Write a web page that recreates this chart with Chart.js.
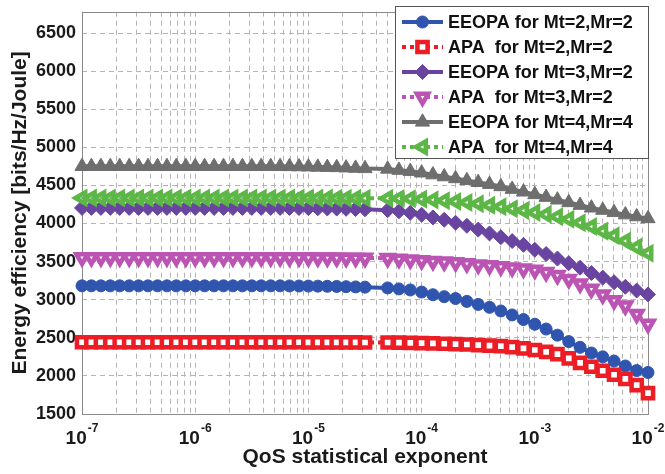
<!DOCTYPE html>
<html lang="en">
<head>
<meta charset="UTF-8">
<title>Energy efficiency vs QoS statistical exponent</title>
<script src="https://cdn.jsdelivr.net/npm/chart.js@4.4.1/dist/chart.umd.min.js"></script>
<style>
  html, body { margin: 0; padding: 0; background: #fff; }
  canvas { display: block; }
</style>
</head>
<body>
<canvas id="ee" width="665" height="474"></canvas>
<script>
// x positions as powers of ten (QoS exponent = 10^e)
const qosExp = [
  -7, -6.917, -6.833, -6.75, -6.667, -6.583, -6.5, -6.417, -6.333, -6.25, -6.167,
  -6.083, -6, -5.917, -5.833, -5.75, -5.667, -5.583, -5.5, -5.417, -5.333, -5.25,
  -5.167, -5.083, -5, -4.917, -4.833, -4.75, -4.667, -4.583, -4.5,
  -4.3, -4.2, -4.1, -4, -3.9, -3.8, -3.7, -3.6, -3.5, -3.4, -3.3, -3.2,
  -3.1, -3, -2.9, -2.8, -2.7, -2.6, -2.5, -2.4, -2.3, -2.2, -2.1, -2
];

const eeopa22 = [
  3182, 3182, 3182, 3182, 3182, 3182, 3182, 3182, 3182, 3182, 3182,
  3182, 3182, 3182, 3182, 3182, 3182, 3182, 3182, 3182, 3182, 3182,
  3181, 3180, 3179, 3178, 3176, 3174, 3171, 3168, 3165,
  3155, 3142, 3128, 3100, 3065, 3040, 3015, 2978, 2938, 2900, 2852, 2800,
  2740, 2678, 2615, 2535, 2450, 2375, 2300, 2250, 2195, 2130, 2070, 2045
];
const apa22 = [
  2442, 2442, 2442, 2442, 2442, 2442, 2442, 2442, 2442, 2442, 2442,
  2442, 2442, 2442, 2442, 2442, 2442, 2442, 2442, 2442, 2442, 2442,
  2442, 2442, 2441, 2441, 2440, 2440, 2439, 2439, 2438,
  2438, 2436, 2434, 2430, 2426, 2422, 2417, 2412, 2405, 2398, 2390, 2378,
  2362, 2340, 2315, 2285, 2230, 2170, 2120, 2068, 2015, 1960, 1880, 1775
];
const eeopa32 = [
  4205, 4205, 4205, 4205, 4205, 4205, 4205, 4205, 4205, 4205, 4205,
  4205, 4205, 4205, 4205, 4205, 4205, 4205, 4205, 4205, 4205, 4205,
  4204, 4203, 4202, 4200, 4198, 4196, 4193, 4190, 4187,
  4175, 4160, 4140, 4115, 4080, 4050, 4010, 3970, 3920, 3870, 3820, 3770,
  3720, 3655, 3600, 3540, 3480, 3420, 3350, 3290, 3230, 3170, 3120, 3070
];
const apa32 = [
  3555, 3555, 3555, 3555, 3555, 3555, 3555, 3555, 3555, 3555, 3555,
  3555, 3555, 3555, 3555, 3555, 3555, 3555, 3555, 3555, 3555, 3555,
  3555, 3554, 3553, 3552, 3551, 3550, 3549, 3548, 3547,
  3545, 3535, 3525, 3515, 3505, 3497, 3490, 3475, 3460, 3448, 3435, 3420,
  3405, 3390, 3360, 3320, 3270, 3210, 3140, 3065, 2990, 2920, 2810, 2680
];
const eeopa44 = [
  4750, 4750, 4750, 4750, 4750, 4750, 4750, 4750, 4750, 4750, 4750,
  4750, 4750, 4750, 4750, 4750, 4750, 4750, 4750, 4750, 4750, 4750,
  4748, 4746, 4744, 4741, 4738, 4735, 4731, 4727, 4722,
  4715, 4700, 4685, 4665, 4640, 4615, 4590, 4565, 4540, 4515, 4485, 4450,
  4415, 4380, 4345, 4310, 4275, 4240, 4205, 4175, 4145, 4115, 4090, 4065
];
const apa44 = [
  4335, 4335, 4335, 4335, 4335, 4335, 4335, 4335, 4335, 4335, 4335,
  4335, 4335, 4335, 4335, 4335, 4335, 4335, 4335, 4335, 4335, 4335,
  4335, 4334, 4334, 4333, 4333, 4332, 4332, 4331, 4331,
  4330, 4328, 4325, 4320, 4310, 4300, 4290, 4275, 4260, 4240, 4220, 4195,
  4170, 4145, 4120, 4090, 4055, 4010, 3960, 3900, 3840, 3770, 3690, 3610
];

const seriesLabels = [
  'EEOPA for Mt=2,Mr=2', 'APA  for Mt=2,Mr=2',
  'EEOPA for Mt=3,Mr=2', 'APA  for Mt=3,Mr=2',
  'EEOPA for Mt=4,Mr=4', 'APA  for Mt=4,Mr=4'
];
const seriesValues = [eeopa22, apa22, eeopa32, apa32, eeopa44, apa44];

const yTicks = [1500, 2000, 2500, 3000, 3500, 4000, 4500, 5000, 5500, 6000, 6500];
const xDecades = [-7, -6, -5, -4, -3, -2];

const FONT = '"Liberation Sans", Arial, sans-serif';

// look of each curve (colour, marker, dotted or not)
const looks = [
  { color: '#2F55AE', style: 'circle',   rot: 0,   r: 6,   bw: 1,   fill: true,  dotted: false },
  { color: '#EC1D25', style: 'rect',     rot: 0,   r: 7.2, bw: 4.5, fill: false, dotted: true },
  { color: '#6945A1', style: 'rectRot',  rot: 0,   r: 7.5, bw: 1,   fill: true,  dotted: false },
  { color: '#BB54B2', style: 'triangle', rot: 180, r: 6.5, bw: 4.5, fill: false, dotted: true },
  { color: '#6E6E6E', style: 'triangle', rot: 0,   r: 8.2, bw: 1,   fill: true,  dotted: false },
  { color: '#5CB746', style: 'triangle', rot: -90, r: 6.5, bw: 4.5, fill: false, dotted: true }
];

const datasets = seriesValues.map((vals, i) => {
  const lk = looks[i];
  return {
    label: seriesLabels[i],
    data: qosExp.map((e, k) => ({ x: Math.pow(10, e), y: vals[k] })),
    borderColor: lk.color,
    borderWidth: 4,
    borderDash: lk.dotted ? [4, 4] : [],
    pointStyle: lk.style,
    pointRotation: lk.rot,
    pointRadius: lk.r,
    pointHoverRadius: lk.r,
    pointBorderWidth: lk.bw,
    pointBorderColor: lk.color,
    pointBackgroundColor: lk.fill ? lk.color : '#ffffff',
    clip: false,
    order: 5 - i
  };
});

const framePlugin = {
  id: 'frame',
  beforeDatasetsDraw(chart) {
    const { ctx, chartArea: a } = chart;
    ctx.save();
    ctx.strokeStyle = '#8a8a8a';
    ctx.lineWidth = 1;
    ctx.strokeRect(Math.round(a.left) + 0.5, Math.round(a.top) + 0.5,
      Math.round(a.right - a.left), Math.round(a.bottom - a.top));
    ctx.restore();
  },
  afterDraw(chart) {
    const { ctx, scales: { x } } = chart;
    ctx.save();
    // x tick labels 10^n
    ctx.fillStyle = '#1a1a1a';
    ctx.textAlign = 'left';
    ctx.textBaseline = 'alphabetic';
    xDecades.forEach(e => {
      const px = x.getPixelForValue(Math.pow(10, e));
      ctx.font = 'bold 19px ' + FONT;
      const w1 = ctx.measureText('10').width;
      ctx.font = 'bold 12px ' + FONT;
      const w2 = ctx.measureText(String(e)).width;
      const s = px - (w1 + w2 + 1) / 2;
      ctx.font = 'bold 19px ' + FONT;
      ctx.fillText('10', s, 444);
      ctx.font = 'bold 12px ' + FONT;
      ctx.fillText(String(e), s + w1 + 1, 432);
    });

    // legend box
    const bx = 395, by = 6, bw = 253, bh = 152;
    ctx.fillStyle = '#ffffff';
    ctx.fillRect(bx, by, bw, bh);
    ctx.strokeStyle = '#555555';
    ctx.lineWidth = 1;
    ctx.strokeRect(bx + 0.5, by + 0.5, bw, bh);
    seriesLabels.forEach((lab, i) => {
      const lk = looks[i];
      const y = 22 + i * 25;
      ctx.strokeStyle = lk.color;
      ctx.lineWidth = 4;
      ctx.setLineDash(lk.dotted ? [4, 4] : []);
      ctx.beginPath();
      ctx.moveTo(402, y);
      ctx.lineTo(443, y);
      ctx.stroke();
      ctx.setLineDash([]);
      ctx.fillStyle = lk.fill ? lk.color : '#ffffff';
      ctx.strokeStyle = lk.color;
      ctx.lineWidth = lk.bw;
      Chart.helpers.drawPoint(ctx, {
        pointStyle: lk.style, rotation: lk.rot, radius: lk.r, borderWidth: lk.bw
      }, 422.5, y);
      ctx.fillStyle = '#111111';
      ctx.font = 'bold 18px ' + FONT;
      ctx.textBaseline = 'middle';
      ctx.fillText(lab, 448, y + 1);
    });
    ctx.restore();
  }
};

new Chart(document.getElementById('ee').getContext('2d'), {
  type: 'line',
  data: { datasets },
  plugins: [framePlugin],
  options: {
    responsive: false,
    animation: false,
    events: [],
    layout: { padding: { top: 5, right: 17, left: 0, bottom: 0 } },
    plugins: { legend: { display: false }, tooltip: { enabled: false } },
    scales: {
      x: {
        type: 'logarithmic',
        min: 1e-7,
        max: 1e-2,
        afterBuildTicks: axis => {
          const t = [];
          xDecades.forEach(e => {
            for (let m = 1; m <= 9; m++) {
              if (e === -2 && m > 1) break;
              t.push({ value: m * Math.pow(10, e) });
            }
          });
          axis.ticks = t;
        },
        afterFit: s => { s.height = 60; s.paddingLeft = 0; s.paddingRight = 0; },
        ticks: { display: false },
        grid: { color: '#b4b4b4', lineWidth: 1, drawTicks: false },
        border: { display: false, dash: [5, 4] },
        title: {
          display: true,
          text: 'QoS statistical exponent',
          color: '#1a1a1a',
          font: { family: FONT, size: 21, weight: 'bold' },
          padding: { top: 0, bottom: 4 }
        }
      },
      y: {
        type: 'linear',
        min: 1500,
        max: 6780,
        afterBuildTicks: axis => { axis.ticks = yTicks.map(v => ({ value: v })); },
        afterFit: s => { s.width = 82; s.paddingTop = 0; s.paddingBottom = 0; },
        ticks: {
          color: '#1a1a1a',
          padding: 6,
          font: { family: FONT, size: 18, weight: 'bold' },
          callback: v => String(v)
        },
        grid: { color: '#b4b4b4', lineWidth: 1, drawTicks: false },
        border: { display: false, dash: [5, 4] },
        title: {
          display: true,
          text: 'Energy efficiency [bits/Hz/Joule]',
          color: '#1a1a1a',
          font: { family: FONT, size: 21, weight: 'bold' },
          padding: { top: 8, bottom: 0 }
        }
      }
    }
  }
});
</script>
</body>
</html>
